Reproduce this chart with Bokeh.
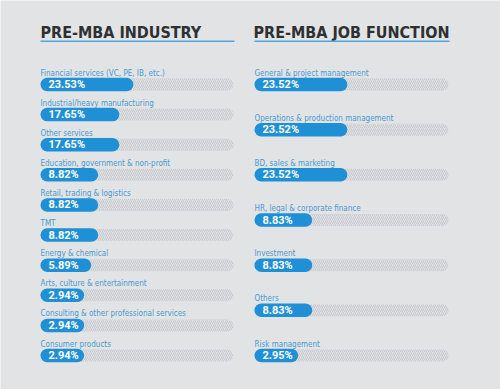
from bokeh.plotting import figure
from bokeh.models import Range1d, ColumnDataSource
from bokeh.core.properties import value
from bokeh.embed import file_html
from bokeh.resources import INLINE

# ---- data ----
industry_title = "PRE-MBA INDUSTRY"
industry_labels = [
    "Financial services (VC, PE, IB, etc.)",
    "Industrial/heavy manufacturing",
    "Other services",
    "Education, government & non-profit",
    "Retail, trading & logistics",
    "TMT",
    "Energy & chemical",
    "Arts, culture & entertainment",
    "Consulting & other professional services",
    "Consumer products",
]
industry_values = [23.53, 17.65, 17.65, 8.82, 8.82, 8.82, 5.89, 2.94, 2.94, 2.94]

function_title = "PRE-MBA JOB FUNCTION"
function_labels = [
    "General & project management",
    "Operations & production management",
    "BD, sales & marketing",
    "HR, legal & corporate finance",
    "Investment",
    "Others",
    "Risk management",
]
function_values = [23.52, 23.52, 23.52, 8.83, 8.83, 8.83, 2.95]

# ---- style ----
BG = "#e1e3e5"
BLUE = "#1f90d5"
LABEL_BLUE = "#4a9ad0"
TITLE_COLOR = "#2e3033"
RULE_COLOR = "#4fa6dc"
TITLE_FONT = "DejaVu Sans Condensed"
LABEL_FONT = "DejaVu Sans Condensed"
PCT_FONT = "Roboto"

W, H = 500, 389
PX_PER_UNIT = 2.393      # bar growth per percentage point (px)
BAR_OFFSET = 15.28       # minimum pill length expressed in value units
FIRST_PX, LAST_PX = 84, 355

p = figure(width=W, height=H, output_backend="svg", toolbar_location=None,
           min_border=0, min_border_left=0, min_border_right=0,
           min_border_top=0, min_border_bottom=0)
p.axis.visible = False
p.grid.visible = False
p.outline_line_color = None
p.background_fill_color = BG
p.border_fill_color = BG


def panel(name, title, labels, values, left_px, track_px, title_x_px):
    bar0 = -BAR_OFFSET
    x_start = bar0 - left_px / PX_PER_UNIT
    x_end = x_start + W / PX_PER_UNIT
    track_end = bar0 + track_px / PX_PER_UNIT
    n = len(values)
    pitch = (LAST_PX - FIRST_PX) / (n - 1)
    y_top = -FIRST_PX / pitch
    y_bot = (H - FIRST_PX) / pitch

    if name == "default":
        p.x_range = Range1d(x_start, x_end)
        p.y_range = Range1d(y_bot, y_top)
    else:
        p.extra_x_ranges[name] = Range1d(x_start, x_end)
        p.extra_y_ranges[name] = Range1d(y_bot, y_top)
    rn = dict(x_range_name=name, y_range_name=name)

    idx = list(range(n))
    src = ColumnDataSource(dict(
        y=idx,
        v=values,
        left=[bar0] * n,
        tend=[track_end] * n,
        lab=labels,
        pct=[f"{v:.2f}%" for v in values],
        ylab=[i - 11.5 / pitch for i in idx],
        xpct=[bar0 + 8 / PX_PER_UNIT] * n,
    ))

    p.hbar(y="y", left="left", right="tend", height=12 / pitch, source=src,
           fill_color="#dfe1e3", line_color=None,
           hatch_pattern="/", hatch_color="#c6c9cc", hatch_scale=4, hatch_weight=1.0,
           border_radius=6, **rn)
    p.hbar(y="y", left="left", right="v", height=13.5 / pitch, source=src,
           fill_color=BLUE, line_color=None, border_radius=7, **rn)

    p.text(x="left", y="ylab", text="lab", source=src,
           text_font=value(LABEL_FONT), text_font_size="8px",
           text_color=LABEL_BLUE, text_baseline="alphabetic", text_align="left", **rn)
    p.text(x="xpct", y="y", text="pct", source=src,
           text_font=value(PCT_FONT), text_font_size="11px", text_font_style="bold",
           text_color="white", text_baseline="middle", text_align="left", **rn)

    title_y = (31.5 - FIRST_PX) / pitch
    p.text(x=[x_start + title_x_px / PX_PER_UNIT], y=[title_y], text=[title],
           text_font=value(TITLE_FONT), text_font_size="16px", text_font_style="bold",
           text_color=TITLE_COLOR, text_baseline="alphabetic", text_align="left", **rn)
    rule_y = (40.7 - FIRST_PX) / pitch
    p.segment(x0=[bar0], y0=[rule_y], x1=[track_end + 1 / PX_PER_UNIT], y1=[rule_y],
              line_color=RULE_COLOR, line_width=1.6, **rn)


panel("default", industry_title, industry_labels, industry_values, 40, 193, 40)
panel("jobs", function_title, function_labels, function_values, 254, 194, 253)

open("out.html", "w").write(file_html(p, INLINE))
